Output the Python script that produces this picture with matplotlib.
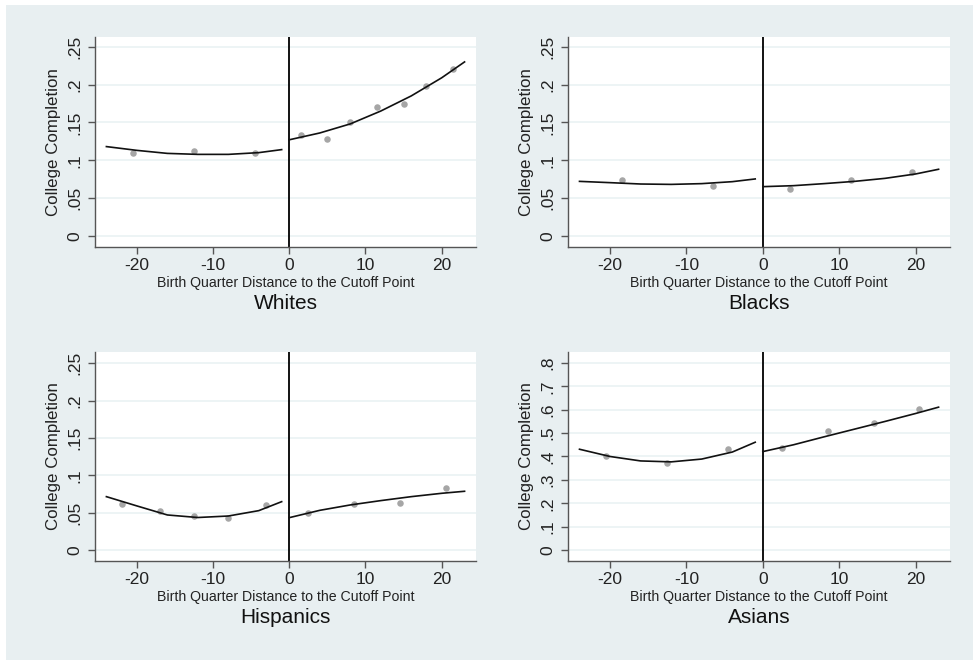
import matplotlib
matplotlib.use("Agg")
import matplotlib.pyplot as plt
from matplotlib.patches import Rectangle

plt.rcParams['font.family'] = ['Liberation Sans', 'DejaVu Sans']
plt.rcParams['axes.unicode_minus'] = False

# binned means (gray dots)
whites_x = [-20.5, -12.5, -4.5, 1.5, 5, 8, 11.5, 15, 18, 21.5]
whites_y = [0.110, 0.112, 0.110, 0.133, 0.128, 0.150, 0.170, 0.174, 0.198, 0.221]
blacks_x = [-18.5, -6.5, 3.5, 11.5, 19.5]
blacks_y = [0.074, 0.066, 0.062, 0.074, 0.084]
hisp_x = [-22, -17, -12.5, -8, -3, 2.5, 8.5, 14.5, 20.5]
hisp_y = [0.061, 0.052, 0.045, 0.043, 0.060, 0.050, 0.061, 0.063, 0.083]
asian_x = [-20.5, -12.5, -4.5, 2.5, 8.5, 14.5, 20.5]
asian_y = [0.403, 0.371, 0.433, 0.436, 0.510, 0.544, 0.603]

# fitted curves
fit_left_x = [-24, -20, -16, -12, -8, -4, -1]
fit_right_x = [0, 4, 8, 12, 16, 20, 23]
whites_fit_l = [0.118, 0.113, 0.109, 0.1077, 0.1077, 0.110, 0.114]
whites_fit_r = [0.127, 0.136, 0.148, 0.165, 0.185, 0.209, 0.230]
blacks_fit_l = [0.072, 0.0703, 0.0685, 0.068, 0.069, 0.0716, 0.0752]
blacks_fit_r = [0.065, 0.0663, 0.069, 0.072, 0.076, 0.0818, 0.088]
hisp_fit_l = [0.0714, 0.059, 0.0469, 0.0435, 0.0455, 0.0527, 0.0647]
hisp_fit_r = [0.0433, 0.0531, 0.0603, 0.0661, 0.0714, 0.0759, 0.0786]
asian_fit_l = [0.431, 0.400, 0.381, 0.377, 0.389, 0.419, 0.461]
asian_fit_r = [0.421, 0.450, 0.484, 0.517, 0.550, 0.584, 0.611]

small_ticks = [0, 0.05, 0.1, 0.15, 0.2, 0.25]
small_labels = ['0', '.05', '.1', '.15', '.2', '.25']
big_ticks = [0, 0.1, 0.2, 0.3, 0.4, 0.5, 0.6, 0.7, 0.8]
big_labels = ['0', '.1', '.2', '.3', '.4', '.5', '.6', '.7', '.8']

BG = '#e8eff1'

panels = [
    ('Whites', whites_x, whites_y, whites_fit_l, whites_fit_r,
     small_ticks, small_labels, (-0.0146, 0.263), [0.0976, 0.626, 0.3916, 0.318]),
    ('Blacks', blacks_x, blacks_y, blacks_fit_l, blacks_fit_r,
     small_ticks, small_labels, (-0.0146, 0.263), [0.5838, 0.626, 0.3926, 0.318]),
    ('Hispanics', hisp_x, hisp_y, hisp_fit_l, hisp_fit_r,
     small_ticks, small_labels, (-0.0147, 0.265), [0.0976, 0.150, 0.3916, 0.3167]),
    ('Asians', asian_x, asian_y, asian_fit_l, asian_fit_r,
     big_ticks, big_labels, (-0.047, 0.847), [0.5838, 0.150, 0.3926, 0.3167]),
]

fig = plt.figure(figsize=(9.73, 6.60), dpi=100)
fig.patch.set_facecolor('white')
# light graph region, with thin white strip on top and left
fig.add_artist(Rectangle((6 / 973, 0), 1, 1 - 5 / 660, transform=fig.transFigure,
                         facecolor=BG, edgecolor='none', zorder=-10))

for name, px, py, fl, fr, yt, yl, ylim, pos in panels:
    ax = fig.add_axes(pos)
    ax.set_facecolor('white')
    ax.set_xlim(-25.5, 24.5)
    ax.set_ylim(*ylim)
    ax.set_yticks(yt)
    ax.set_yticklabels(yl, rotation=90, va='center')
    ax.set_xticks([-20, -10, 0, 10, 20])
    ax.grid(axis='y', color='#eaf2f3', linewidth=1.2)
    ax.set_axisbelow(True)
    for s in ['top', 'right']:
        ax.spines[s].set_visible(False)
    for s in ['left', 'bottom']:
        ax.spines[s].set_color('#555555')
        ax.spines[s].set_linewidth(1.0)
    ax.tick_params(colors='#555555', labelcolor='#222222', length=5, width=1.0,
                   labelsize=12.5)
    ax.tick_params(axis='y', pad=4)
    ax.tick_params(axis='x', pad=3)

    ax.axvline(0, color='black', linewidth=1.3)
    ax.scatter(px, py, s=22, color='#a6a6a6', zorder=3, linewidths=0)
    ax.plot(fit_left_x, fl, color='#111111', linewidth=1.2, zorder=4)
    ax.plot(fit_right_x, fr, color='#111111', linewidth=1.2, zorder=4)

    ax.set_xlabel('Birth Quarter Distance to the Cutoff Point', fontsize=10.2,
                  color='#222222', labelpad=2)
    ax.set_ylabel('College Completion', fontsize=12.2, color='#222222', labelpad=5)
    ax.text(0.5, -0.27, name, transform=ax.transAxes, ha='center', va='center',
            fontsize=15, color='#111111')

plt.savefig('out.png', dpi=100)
